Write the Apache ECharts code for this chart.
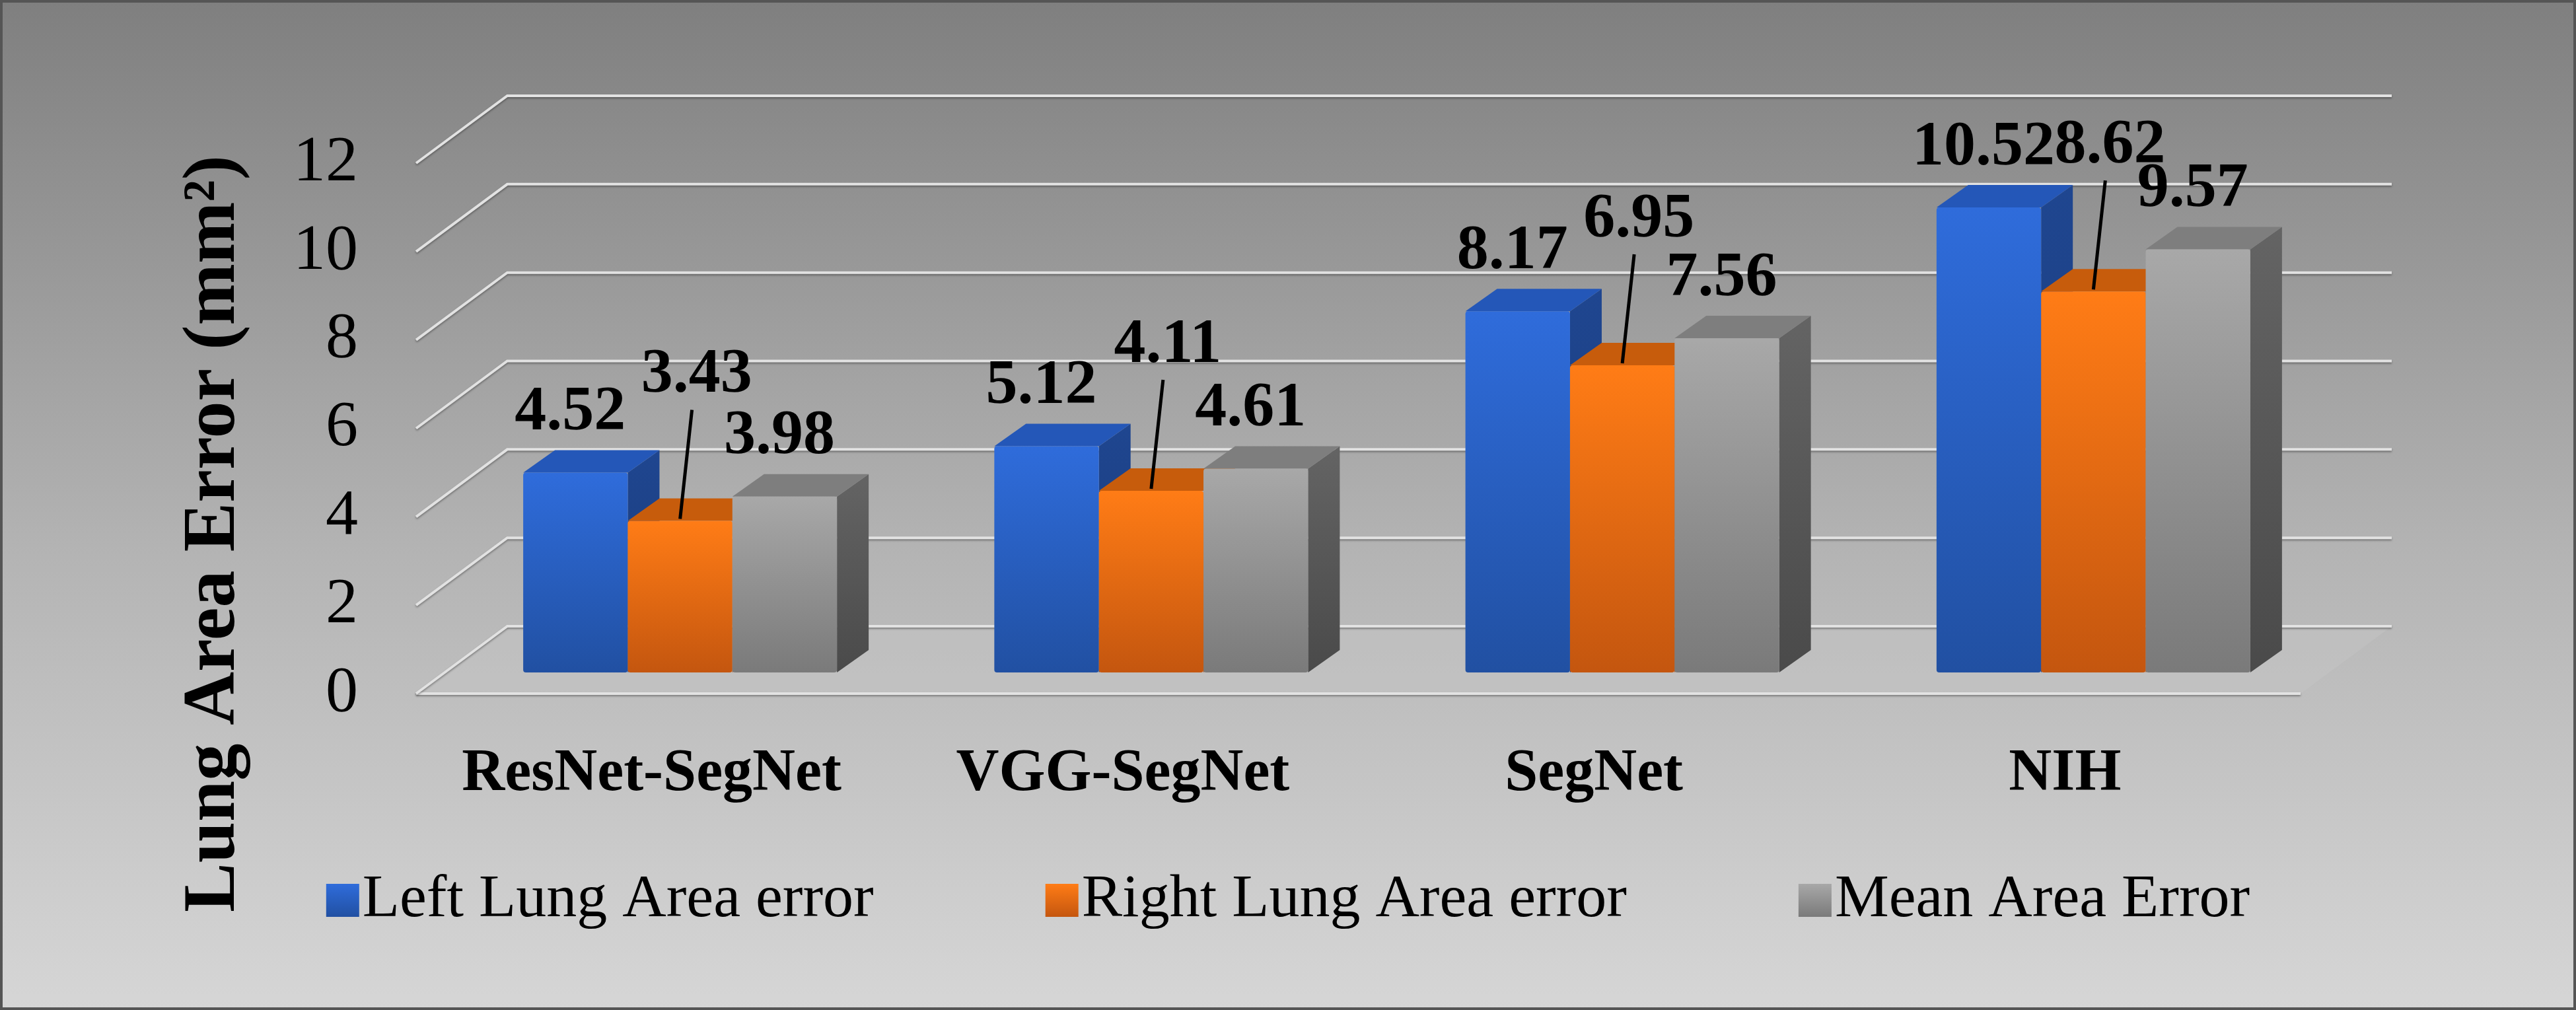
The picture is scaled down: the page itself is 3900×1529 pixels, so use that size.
<!DOCTYPE html>
<html><head><meta charset="utf-8">
<script src="https://cdn.jsdelivr.net/npm/echarts@6/dist/echarts.min.js"></script>
<style>html,body{margin:0;padding:0;}#c{width:3900px;height:1529px;}</style>
</head><body><div id="c"></div>
<script>
const categories = ['ResNet-SegNet', 'VGG-SegNet', 'SegNet', 'NIH'];
const leftLung = [4.52, 5.12, 8.17, 10.52];
const rightLung = [3.43, 4.11, 6.95, 8.62];
const meanErr = [3.98, 4.61, 7.56, 9.57];
const seriesNames = ['Left Lung Area error', 'Right Lung Area error', 'Mean Area Error'];
const yTicks = [0, 2, 4, 6, 8, 10, 12];
const yTitle = 'Lung Area Error (mm²)';

const palettes = [
  {front:['#2f6cdb','#2150a2'], top:'#2457b8', side:['#1f4690','#1a3a78']},
  {front:['#ff7c16','#c4560f'], top:'#c75c0c', side:['#b24e07','#98420a']},
  {front:['#a8a8a8','#7a7a7a'], top:'#7e7e7e', side:['#646464','#4a4a4a']}
];
const PX = 43, PY = 32;
const BX = 138, BY = 102;
const DX = 48, DY = 34;
const font = '"Liberation Serif","Times New Roman",serif';

function grad(c){return new echarts.graphic.LinearGradient(0,0,0,1,[{offset:0,color:c[0]},{offset:1,color:c[1]}]);}

function barSeries(si, vals){
  const pal = palettes[si];
  return {
    type:'custom', name: seriesNames[si], clip:false, z: 3+si,
    itemStyle:{color: grad(pal.front)},
    data: vals.map((v,i)=>[i,v]),
    renderItem(params, api){
      const cat = api.value(0), v = api.value(1);
      const p0 = api.coord([cat,0]), p1 = api.coord([cat,v]);
      const bandW = api.size([1,0])[0];
      const w = bandW*0.222;
      const x = p0[0] + (si-1)*w - w/2 + PX;
      const yb = p0[1]-PY, yt = p1[1]-PY;
      const cx = x + w/2;
      const ch = [
        {type:'polygon', shape:{points:[[x+w,yt],[x+w+DX,yt-DY],[x+w+DX,yb-DY],[x+w,yb]]}, style:{fill:grad(pal.side)}},
        {type:'polygon', shape:{points:[[x,yt],[x+DX,yt-DY],[x+w+DX,yt-DY],[x+w,yt]]}, style:{fill:pal.top}},
        {type:'rect', shape:{x:x,y:yt,width:w,height:yb-yt,r:4}, style:{fill:grad(pal.front)}}
      ];
      const txt = v.toFixed(2);
      if(si===1){
        ch.push({type:'line', shape:{x1:cx+18,y1:yt-168,x2:cx,y2:yt-3}, style:{stroke:'#000',lineWidth:5}});
        ch.push({type:'text', style:{text:txt,x:cx+25,y:yt-220,align:'center',verticalAlign:'middle',font:'bold 96px '+font,fill:'#000'}});
      } else {
        ch.push({type:'text', style:{text:txt,x:cx-8,y:yt-90,align:'center',verticalAlign:'middle',font:'bold 96px '+font,fill:'#000'}});
      }
      return {type:'group', children: ch};
    }
  };
}

const wallSeries = {
  type:'custom', name:'walls', clip:false, z:1, silent:true,
  data: yTicks.map(v=>[0,v]),
  renderItem(params, api){
    const cs = params.coordSys;
    const v = api.value(1);
    const y = api.coord([0,v])[1];
    const x0 = cs.x, x1 = cs.x+cs.width;
    const ls = {stroke:'#e2e2e2', lineWidth:4, shadowBlur:3, shadowColor:'rgba(0,0,0,0.35)', shadowOffsetY:2};
    const ch = [];
    if(v===0){
      ch.push({type:'polygon', shape:{points:[[x0,y],[x0+BX,y-BY],[x1+BX,y-BY],[x1,y]]}, style:{fill:'rgba(200,200,200,0.35)'}});
      ch.push({type:'line', shape:{x1:x0,y1:y,x2:x1,y2:y}, style:ls});
    }
    ch.push({type:'polyline', shape:{points:[[x0,y],[x0+BX,y-BY],[x1+BX,y-BY]]}, style:Object.assign({fill:null},ls)});
    return {type:'group', children:ch};
  }
};

const chart = echarts.init(document.getElementById('c'));
chart.setOption({
  animation:false,
  backgroundColor: new echarts.graphic.LinearGradient(0,0,0,1,[{offset:0,color:'#7f7f7f'},{offset:0.55,color:'#b4b4b4'},{offset:1,color:'#d6d6d6'}]),
  grid:{left:630, right:417, top:247, bottom:479},
  xAxis:{type:'category', data:categories, axisLine:{show:false}, axisTick:{show:false},
    axisLabel:{interval:0, margin:78, fontFamily:font, fontWeight:'bold', fontSize:90, color:'#000'}},
  yAxis:{type:'value', min:0, max:12, interval:2, splitLine:{show:false},
    axisLabel:{margin:88, fontFamily:font, fontSize:98, color:'#000'}},
  legend:{data:seriesNames, bottom:115, left:'center', itemWidth:50, itemHeight:50, itemGap:260, icon:'rect',
    textStyle:{fontFamily:font, fontSize:92, color:'#000'}},
  graphic:[
    {type:'rect', shape:{x:2,y:2,width:3896,height:1525}, style:{fill:null, stroke:'#555', lineWidth:4}, silent:true},
    {type:'text', x:325, y:808, rotation:Math.PI/2, style:{text:yTitle, align:'center', verticalAlign:'middle', font:'bold 112px '+font, fill:'#000'}}
  ],
  series:[wallSeries, barSeries(0,leftLung), barSeries(1,rightLung), barSeries(2,meanErr)]
});
</script></body></html>
